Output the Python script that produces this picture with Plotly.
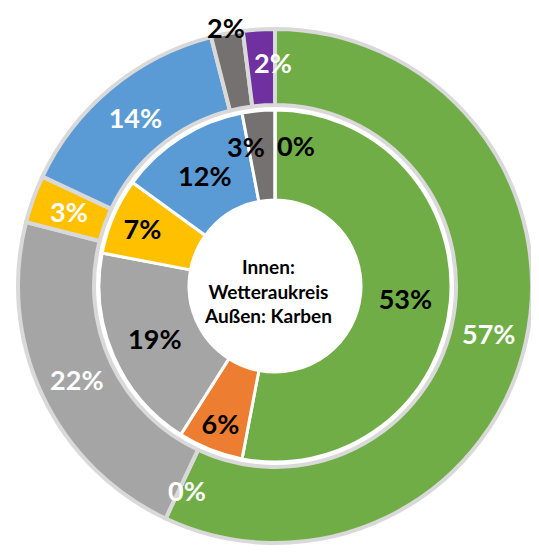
import math
import plotly.graph_objects as go

# ---- data ----
categories = ["Kategorie 1", "Kategorie 2", "Kategorie 3", "Kategorie 4",
              "Kategorie 5", "Kategorie 6", "Kategorie 7"]
inner_values = [53, 6, 19, 7, 12, 3, 0]   # Innen: Wetteraukreis
outer_values = [57, 0, 22, 3, 14, 2, 2]   # Außen: Karben
colors = ["#70AD47", "#ED7D31", "#A5A5A5", "#FFC000", "#5B9BD5", "#767171", "#7030A0"]
center_label = "Innen:<br>Wetteraukreis<br>Außen: Karben"

W, H = 539, 559
FONT = "Lato"
SMALL = 4  # values below this get a free-standing label
OFF = 8    # page body margin

# geometry (pixels, figure coordinates)
cx_px, cy_px = 275 - OFF, 286 - OFF
R_OUT, R_OUT_IN = 257, 181
R_IN, R_HOLE = 176, 86

def dom(r):
    return dict(x=[(cx_px - r) / W, (cx_px + r) / W],
                y=[(H - cy_px - r) / H, (H - cy_px + r) / H])

def texts(vals):
    return [f"{v}%" if v >= SMALL else "" for v in vals]

fig = go.Figure()
fig.add_trace(go.Pie(
    labels=categories, values=outer_values, name="Karben",
    domain=dom(R_OUT), hole=R_OUT_IN / R_OUT, sort=False, direction="clockwise",
    marker=dict(colors=colors, line=dict(color="#D9D9D9", width=4)),
    text=texts(outer_values), textinfo="text", textposition="inside",
    insidetextorientation="horizontal",
    insidetextfont=dict(family=FONT, size=27, color="white", weight="bold"),
    showlegend=False,
))
fig.add_trace(go.Pie(
    labels=categories, values=inner_values, name="Wetteraukreis",
    domain=dom(R_IN), hole=R_HOLE / R_IN, sort=False, direction="clockwise",
    marker=dict(colors=colors, line=dict(color="white", width=3)),
    text=texts(inner_values), textinfo="text", textposition="inside",
    insidetextorientation="horizontal",
    insidetextfont=dict(family=FONT, size=27, color="black", weight="bold"),
    showlegend=False,
))

# free-standing labels for small slices, placed at the slice mid-angle
def small_labels(vals, r_px, color, overrides=None):
    overrides = overrides or {}
    total = sum(vals)
    cum = 0
    out = []
    for i, v in enumerate(vals):
        mid = (cum + v / 2) / total * 2 * math.pi
        cum += v
        if v >= SMALL:
            continue
        o = overrides.get(i, {})
        r = o.get("r", r_px)
        x = (cx_px + r * math.sin(mid)) / W
        y = (H - cy_px + r * math.cos(mid)) / H
        out.append(dict(x=x, y=y, xref="paper", yref="paper", text=f"{v}%",
                        xanchor="center", yanchor="middle", borderpad=0,
                        showarrow=False, xshift=o.get("dx", 0), yshift=o.get("dy", 0),
                        font=dict(family=FONT, size=27, color=o.get("color", color),
                                  weight="bold")))
    return out

ann = []
ann += small_labels(outer_values, (R_OUT + R_OUT_IN) / 2, "white",
                    {1: {"r": 226, "dx": 8}, 5: {"r": 263, "color": "black"},
                     6: {"r": 224, "dx": 12}})
ann += small_labels(inner_values, 140, "black",
                    {5: {"dx": -16}, 6: {"dx": 21}})
ann.append(dict(x=cx_px / W, y=(H - cy_px) / H, xref="paper", yref="paper",
                text=center_label, showarrow=False, align="center",
                xanchor="center", yanchor="middle", xshift=-7, yshift=-5,
                font=dict(family=FONT, size=19, color="black", weight="bold")))

fig.update_layout(
    width=W, height=H, margin=dict(l=0, r=0, t=0, b=0),
    paper_bgcolor="white", plot_bgcolor="white",
    annotations=ann,
)
fig.write_html("out.html")
